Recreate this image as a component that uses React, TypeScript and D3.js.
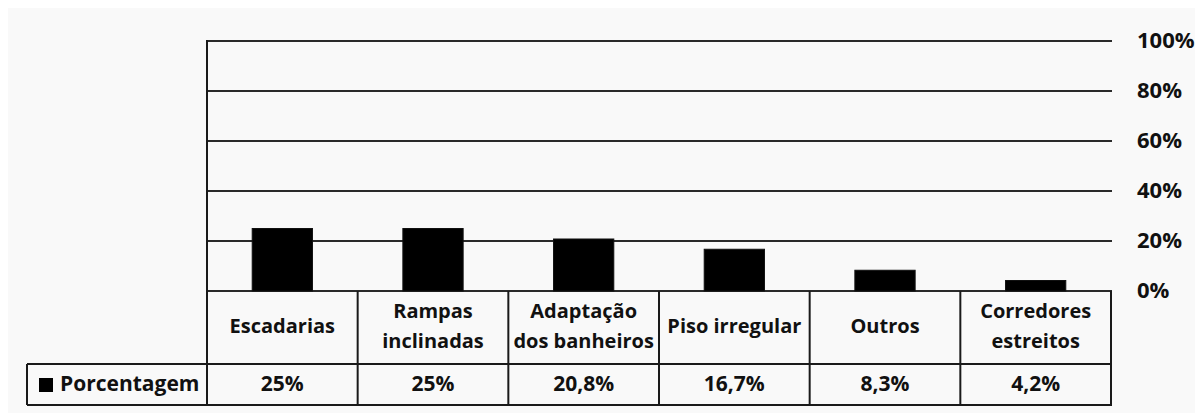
import React from "react";
import * as d3 from "d3";

const categories: string[][] = [
  ["Escadarias"],
  ["Rampas", "inclinadas"],
  ["Adaptação", "dos banheiros"],
  ["Piso irregular"],
  ["Outros"],
  ["Corredores", "estreitos"],
];
const values: number[] = [25, 25, 20.8, 16.7, 8.3, 4.2];
const valueLabels: string[] = ["25%", "25%", "20,8%", "16,7%", "8,3%", "4,2%"];
const ticks: number[] = [0, 20, 40, 60, 80, 100];
const seriesName = "Porcentagem";

const W = 1195;
const H = 405;
const left = 199;
const right = 1103;
const top = 33;
const base = 283;
const row1 = 356;
const row2 = 397;
const legendLeft = 19;
const FONT = "'Open Sans', 'DejaVu Sans', sans-serif";

export default function App() {
  const keys = categories.map((_, i) => String(i));
  const cols = d3.scaleBand<string>().domain(keys).range([left, right]).padding(0);
  const bars = d3
    .scaleBand<string>()
    .domain(keys)
    .range([left, right])
    .paddingInner(0.6)
    .paddingOuter(0.3);
  const y = d3.scaleLinear().domain([0, 100]).range([base, top]);
  const lineColor = "#1a1a1a";

  return (
    <svg width={W} height={H} style={{ display: "block", background: "#f9f9f9" }}>
      {/* gridlines */}
      {ticks.map((t) => (
        <g key={t}>
          <line x1={left} x2={right + 1} y1={y(t)} y2={y(t)} stroke="#2a2a2a" strokeWidth={2} />
          <text
            x={1129}
            y={y(t) + 1}
            dominantBaseline="middle"
            fontFamily={FONT}
            fontWeight={700}
            fontSize={22}
            fill="#111"
          >
            {t}%
          </text>
        </g>
      ))}
      {/* bars */}
      {values.map((v, i) => (
        <rect
          key={i}
          x={bars(String(i))}
          y={y(v)}
          width={bars.bandwidth()}
          height={base - y(v)}
          fill="#000"
          stroke="#111"
          strokeWidth={1}
        />
      ))}
      {/* left axis */}
      <line x1={left} x2={left} y1={top - 1} y2={row2} stroke={lineColor} strokeWidth={2} />
      {/* table lines */}
      <line x1={legendLeft} x2={right + 1} y1={row1} y2={row1} stroke={lineColor} strokeWidth={2} />
      <line x1={legendLeft} x2={right + 1} y1={row2} y2={row2} stroke={lineColor} strokeWidth={2} />
      <line x1={legendLeft} x2={legendLeft} y1={row1} y2={row2} stroke={lineColor} strokeWidth={2} />
      {keys.map((k) => (
        <line
          key={k}
          x1={(cols(k) as number) + cols.bandwidth()}
          x2={(cols(k) as number) + cols.bandwidth()}
          y1={base}
          y2={row2}
          stroke={lineColor}
          strokeWidth={2}
        />
      ))}
      {/* category labels */}
      {categories.map((lines, i) => {
        const cx = (cols(String(i)) as number) + cols.bandwidth() / 2;
        const cy = (base + row1) / 2;
        return (
          <text
            key={i}
            x={cx}
            textAnchor="middle"
            fontFamily={FONT}
            fontWeight={700}
            fontSize={20}
            fill="#111"
          >
            {lines.map((l, j) => (
              <tspan
                key={j}
                x={cx}
                y={cy + (j - (lines.length - 1) / 2) * 30}
                dominantBaseline="middle"
              >
                {l}
              </tspan>
            ))}
          </text>
        );
      })}
      {/* values row */}
      {valueLabels.map((l, i) => (
        <text
          key={i}
          x={(cols(String(i)) as number) + cols.bandwidth() / 2}
          y={(row1 + row2) / 2 + 1}
          textAnchor="middle"
          dominantBaseline="middle"
          fontFamily={FONT}
          fontWeight={700}
          fontSize={21}
          fill="#111"
        >
          {l}
        </text>
      ))}
      {/* legend */}
      <rect x={31} y={370} width={14} height={14} fill="#000" />
      <text
        x={52}
        y={(row1 + row2) / 2 + 1}
        dominantBaseline="middle"
        fontFamily={FONT}
        fontWeight={700}
        fontSize={21}
        fill="#111"
      >
        {seriesName}
      </text>
    </svg>
  );
}
